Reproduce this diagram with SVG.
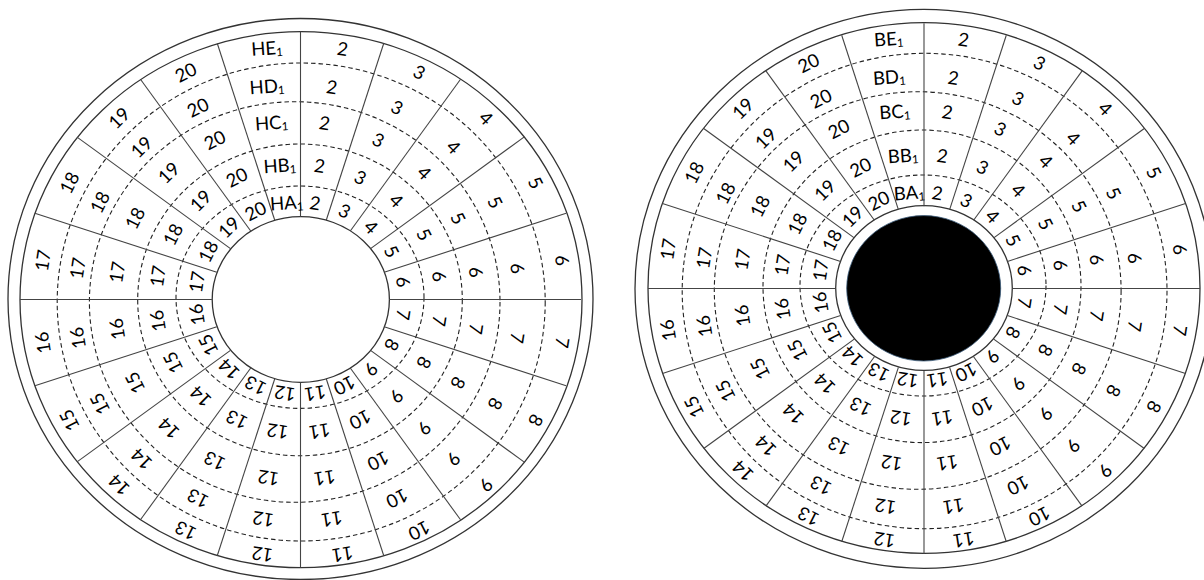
<svg xmlns="http://www.w3.org/2000/svg" width="1204" height="580" viewBox="0 0 1204 580">
<style>
.ring{fill:none;stroke:#333;stroke-width:1.3}
.hole{fill:#fff;stroke:#333;stroke-width:1.3}
.dash{fill:none;stroke:#222;stroke-width:1.1;stroke-dasharray:4.5 3}
.sec{stroke:#444;stroke-width:1.1}
.lbl text{font-family:Lato,"Liberation Sans",sans-serif;font-size:18.5px;text-anchor:middle;dominant-baseline:central;fill:#000}
.sub{font-size:11.5px}
</style>
<rect width="1204" height="580" fill="#fff"/>
<g id="left-diagram">
<g id="left-rings">
<ellipse class="ring" cx="300.5" cy="299" rx="292.5" ry="280.5"/>
<ellipse class="ring" cx="301" cy="299.7" rx="281" ry="268"/>
<ellipse class="dash" cx="301.2" cy="302" rx="244" ry="239"/>
<ellipse class="dash" cx="294.7" cy="302" rx="205.3" ry="200.3"/>
<ellipse class="dash" cx="300" cy="299.9" rx="162.3" ry="155.9"/>
<ellipse class="dash" cx="300" cy="297.2" rx="124" ry="111.2"/>
<ellipse class="hole" cx="300.8" cy="299.5" rx="88.6" ry="82.8"/>
</g>
<g id="left-connectors" transform="translate(300.5,299.5)">
<line class="sec" y1="-82.7" y2="-268" transform="rotate(0)"/>
<line class="sec" y1="-83.3" y2="-269.2" transform="rotate(18)"/>
<line class="sec" y1="-84.7" y2="-272.3" transform="rotate(36)"/>
<line class="sec" y1="-86.6" y2="-276.2" transform="rotate(54)"/>
<line class="sec" y1="-88" y2="-279.3" transform="rotate(72)"/>
<line class="sec" y1="-88.6" y2="-280.5" transform="rotate(90)"/>
<line class="sec" y1="-88" y2="-279.3" transform="rotate(108)"/>
<line class="sec" y1="-86.6" y2="-276.2" transform="rotate(126)"/>
<line class="sec" y1="-84.7" y2="-272.3" transform="rotate(144)"/>
<line class="sec" y1="-83.3" y2="-269.2" transform="rotate(162)"/>
<line class="sec" y1="-82.7" y2="-268" transform="rotate(180)"/>
<line class="sec" y1="-83.3" y2="-269.2" transform="rotate(198)"/>
<line class="sec" y1="-84.7" y2="-272.3" transform="rotate(216)"/>
<line class="sec" y1="-86.6" y2="-276.2" transform="rotate(234)"/>
<line class="sec" y1="-88" y2="-279.3" transform="rotate(252)"/>
<line class="sec" y1="-88.6" y2="-280.5" transform="rotate(270)"/>
<line class="sec" y1="-88" y2="-279.3" transform="rotate(288)"/>
<line class="sec" y1="-86.6" y2="-276.2" transform="rotate(306)"/>
<line class="sec" y1="-84.7" y2="-272.3" transform="rotate(324)"/>
<line class="sec" y1="-83.3" y2="-269.2" transform="rotate(342)"/>
</g>
<g id="left-band-E" class="lbl" transform="translate(302.5,301.5)">
<text transform="rotate(-8) translate(0,-256.2) rotate(4)">HE<tspan class="sub" dy="4">1</tspan></text>
<text transform="rotate(9) translate(0,-256.2)">2</text>
<text transform="rotate(27) translate(0,-257.5)">3</text>
<text transform="rotate(45) translate(0,-259.75)">4</text>
<text transform="rotate(63) translate(0,-262)">5</text>
<text transform="rotate(81) translate(0,-263.3)">6</text>
<text transform="rotate(99) translate(0,-263.3)">7</text>
<text transform="rotate(117) translate(0,-262)">8</text>
<text transform="rotate(135) translate(0,-259.75)">9</text>
<text transform="rotate(153) translate(0,-257.5)">10</text>
<text transform="rotate(171) translate(0,-256.2)">11</text>
<text transform="rotate(189) translate(0,-256.2)">12</text>
<text transform="rotate(207) translate(0,-257.5)">13</text>
<text transform="rotate(225) translate(0,-259.75)">14</text>
<text transform="rotate(243) translate(0,-262)">15</text>
<text transform="rotate(261) translate(0,-263.3)">16</text>
<text transform="rotate(279) translate(0,-263.3)">17</text>
<text transform="rotate(297) translate(0,-262)">18</text>
<text transform="rotate(315) translate(0,-259.75)">19</text>
<text transform="rotate(333) translate(0,-257.5)">20</text>
</g>
<g id="left-band-D" class="lbl" transform="translate(297.5,303)">
<text transform="rotate(-8) translate(0,-219.1) rotate(4)">HD<tspan class="sub" dy="4">1</tspan></text>
<text transform="rotate(9) translate(0,-219.1)">2</text>
<text transform="rotate(27) translate(0,-219.8)">3</text>
<text transform="rotate(45) translate(0,-221)">4</text>
<text transform="rotate(63) translate(0,-222.2)">5</text>
<text transform="rotate(81) translate(0,-222.9)">6</text>
<text transform="rotate(99) translate(0,-222.9)">7</text>
<text transform="rotate(117) translate(0,-222.2)">8</text>
<text transform="rotate(135) translate(0,-221)">9</text>
<text transform="rotate(153) translate(0,-219.8)">10</text>
<text transform="rotate(171) translate(0,-219.1)">11</text>
<text transform="rotate(189) translate(0,-219.1)">12</text>
<text transform="rotate(207) translate(0,-219.8)">13</text>
<text transform="rotate(225) translate(0,-221)">14</text>
<text transform="rotate(243) translate(0,-222.2)">15</text>
<text transform="rotate(261) translate(0,-222.9)">16</text>
<text transform="rotate(279) translate(0,-222.9)">17</text>
<text transform="rotate(297) translate(0,-222.2)">18</text>
<text transform="rotate(315) translate(0,-221)">19</text>
<text transform="rotate(333) translate(0,-219.8)">20</text>
</g>
<g id="left-band-C" class="lbl" transform="translate(296.5,300.5)">
<text transform="rotate(-8) translate(0,-180) rotate(4)">HC<tspan class="sub" dy="4">1</tspan></text>
<text transform="rotate(9) translate(0,-180)">2</text>
<text transform="rotate(27) translate(0,-180.4)">3</text>
<text transform="rotate(45) translate(0,-181)">4</text>
<text transform="rotate(63) translate(0,-181.6)">5</text>
<text transform="rotate(81) translate(0,-182)">6</text>
<text transform="rotate(99) translate(0,-182)">7</text>
<text transform="rotate(117) translate(0,-181.6)">8</text>
<text transform="rotate(135) translate(0,-181)">9</text>
<text transform="rotate(153) translate(0,-180.4)">10</text>
<text transform="rotate(171) translate(0,-180)">11</text>
<text transform="rotate(189) translate(0,-180)">12</text>
<text transform="rotate(207) translate(0,-180.4)">13</text>
<text transform="rotate(225) translate(0,-181)">14</text>
<text transform="rotate(243) translate(0,-181.6)">15</text>
<text transform="rotate(261) translate(0,-182)">16</text>
<text transform="rotate(279) translate(0,-182)">17</text>
<text transform="rotate(297) translate(0,-181.6)">18</text>
<text transform="rotate(315) translate(0,-181)">19</text>
<text transform="rotate(333) translate(0,-180.4)">20</text>
</g>
<g id="left-band-B" class="lbl" transform="translate(298.5,298.5)">
<text transform="rotate(-8) translate(0,-134.7) rotate(4)">HB<tspan class="sub" dy="4">1</tspan></text>
<text transform="rotate(9) translate(0,-134.7)">2</text>
<text transform="rotate(27) translate(0,-136.25)">3</text>
<text transform="rotate(45) translate(0,-138.75)">4</text>
<text transform="rotate(63) translate(0,-141.25)">5</text>
<text transform="rotate(81) translate(0,-142.8)">6</text>
<text transform="rotate(99) translate(0,-142.8)">7</text>
<text transform="rotate(117) translate(0,-141.25)">8</text>
<text transform="rotate(135) translate(0,-138.75)">9</text>
<text transform="rotate(153) translate(0,-136.25)">10</text>
<text transform="rotate(171) translate(0,-134.7)">11</text>
<text transform="rotate(189) translate(0,-134.7)">12</text>
<text transform="rotate(207) translate(0,-136.25)">13</text>
<text transform="rotate(225) translate(0,-138.75)">14</text>
<text transform="rotate(243) translate(0,-141.25)">15</text>
<text transform="rotate(261) translate(0,-142.8)">16</text>
<text transform="rotate(279) translate(0,-142.8)">17</text>
<text transform="rotate(297) translate(0,-141.25)">18</text>
<text transform="rotate(315) translate(0,-138.75)">19</text>
<text transform="rotate(333) translate(0,-136.25)">20</text>
</g>
<g id="left-band-A" class="lbl" transform="translate(300,298.2)">
<text transform="rotate(-8) translate(0,-96.7) rotate(4)">HA<tspan class="sub" dy="4">1</tspan></text>
<text transform="rotate(9) translate(0,-96.7)">2</text>
<text transform="rotate(27) translate(0,-98.25)">3</text>
<text transform="rotate(45) translate(0,-100.75)">4</text>
<text transform="rotate(63) translate(0,-103.25)">5</text>
<text transform="rotate(81) translate(0,-104.8)">6</text>
<text transform="rotate(99) translate(0,-104.8)">7</text>
<text transform="rotate(117) translate(0,-103.25)">8</text>
<text transform="rotate(135) translate(0,-100.75)">9</text>
<text transform="rotate(153) translate(0,-98.25)">10</text>
<text transform="rotate(171) translate(0,-96.7)">11</text>
<text transform="rotate(189) translate(0,-96.7)">12</text>
<text transform="rotate(207) translate(0,-98.25)">13</text>
<text transform="rotate(225) translate(0,-100.75)">14</text>
<text transform="rotate(243) translate(0,-103.25)">15</text>
<text transform="rotate(261) translate(0,-104.8)">16</text>
<text transform="rotate(279) translate(0,-104.8)">17</text>
<text transform="rotate(297) translate(0,-103.25)">18</text>
<text transform="rotate(315) translate(0,-100.75)">19</text>
<text transform="rotate(333) translate(0,-98.25)">20</text>
</g>
</g>
<g id="right-diagram">
<g id="right-rings">
<ellipse class="ring" cx="924" cy="288.8" rx="289" ry="279.5"/>
<ellipse class="ring" cx="924" cy="288" rx="276" ry="265.3"/>
<ellipse class="dash" cx="924.6" cy="291" rx="242.4" ry="237.7"/>
<ellipse class="dash" cx="917.7" cy="290.5" rx="203.4" ry="198.8"/>
<ellipse class="dash" cx="922" cy="286.3" rx="159" ry="156.3"/>
<ellipse class="dash" cx="923" cy="285.5" rx="123" ry="110.5"/>
<ellipse class="hole" cx="924" cy="288" rx="88.3" ry="82.3"/>
<ellipse cx="923.7" cy="288.3" rx="77" ry="72.7" fill="#000" stroke="#3a5a7a" stroke-width="0.8"/>
</g>
<g id="right-connectors" transform="translate(924,288.5)">
<line class="sec" y1="-82.3" y2="-265.3" transform="rotate(0)"/>
<line class="sec" y1="-82.9" y2="-266.3" transform="rotate(18)"/>
<line class="sec" y1="-84.4" y2="-269" transform="rotate(36)"/>
<line class="sec" y1="-86.2" y2="-272.3" transform="rotate(54)"/>
<line class="sec" y1="-87.7" y2="-275" transform="rotate(72)"/>
<line class="sec" y1="-88.3" y2="-276" transform="rotate(90)"/>
<line class="sec" y1="-87.7" y2="-275" transform="rotate(108)"/>
<line class="sec" y1="-86.2" y2="-272.3" transform="rotate(126)"/>
<line class="sec" y1="-84.4" y2="-269" transform="rotate(144)"/>
<line class="sec" y1="-82.9" y2="-266.3" transform="rotate(162)"/>
<line class="sec" y1="-82.3" y2="-265.3" transform="rotate(180)"/>
<line class="sec" y1="-82.9" y2="-266.3" transform="rotate(198)"/>
<line class="sec" y1="-84.4" y2="-269" transform="rotate(216)"/>
<line class="sec" y1="-86.2" y2="-272.3" transform="rotate(234)"/>
<line class="sec" y1="-87.7" y2="-275" transform="rotate(252)"/>
<line class="sec" y1="-88.3" y2="-276" transform="rotate(270)"/>
<line class="sec" y1="-87.7" y2="-275" transform="rotate(288)"/>
<line class="sec" y1="-86.2" y2="-272.3" transform="rotate(306)"/>
<line class="sec" y1="-84.4" y2="-269" transform="rotate(324)"/>
<line class="sec" y1="-82.9" y2="-266.3" transform="rotate(342)"/>
</g>
<g id="right-band-E" class="lbl" transform="translate(924,289.7)">
<text transform="rotate(-8) translate(0,-253.55) rotate(4)">BE<tspan class="sub" dy="4">1</tspan></text>
<text transform="rotate(9) translate(0,-253.55)">2</text>
<text transform="rotate(27) translate(0,-254.7)">3</text>
<text transform="rotate(45) translate(0,-256.55)">4</text>
<text transform="rotate(63) translate(0,-258.4)">5</text>
<text transform="rotate(81) translate(0,-259.55)">6</text>
<text transform="rotate(99) translate(0,-259.55)">7</text>
<text transform="rotate(117) translate(0,-258.4)">8</text>
<text transform="rotate(135) translate(0,-256.55)">9</text>
<text transform="rotate(153) translate(0,-254.7)">10</text>
<text transform="rotate(171) translate(0,-253.55)">11</text>
<text transform="rotate(189) translate(0,-253.55)">12</text>
<text transform="rotate(207) translate(0,-254.7)">13</text>
<text transform="rotate(225) translate(0,-256.55)">14</text>
<text transform="rotate(243) translate(0,-258.4)">15</text>
<text transform="rotate(261) translate(0,-259.55)">16</text>
<text transform="rotate(279) translate(0,-259.55)">17</text>
<text transform="rotate(297) translate(0,-258.4)">18</text>
<text transform="rotate(315) translate(0,-256.55)">19</text>
<text transform="rotate(333) translate(0,-254.7)">20</text>
</g>
<g id="right-band-D" class="lbl" transform="translate(919.5,292)">
<text transform="rotate(-8) translate(0,-217.3) rotate(4)">BD<tspan class="sub" dy="4">1</tspan></text>
<text transform="rotate(9) translate(0,-217.3)">2</text>
<text transform="rotate(27) translate(0,-217.5)">3</text>
<text transform="rotate(45) translate(0,-217.8)">4</text>
<text transform="rotate(63) translate(0,-218.1)">5</text>
<text transform="rotate(81) translate(0,-218.3)">6</text>
<text transform="rotate(99) translate(0,-218.3)">7</text>
<text transform="rotate(117) translate(0,-218.1)">8</text>
<text transform="rotate(135) translate(0,-217.8)">9</text>
<text transform="rotate(153) translate(0,-217.5)">10</text>
<text transform="rotate(171) translate(0,-217.3)">11</text>
<text transform="rotate(189) translate(0,-217.3)">12</text>
<text transform="rotate(207) translate(0,-217.5)">13</text>
<text transform="rotate(225) translate(0,-217.8)">14</text>
<text transform="rotate(243) translate(0,-218.1)">15</text>
<text transform="rotate(261) translate(0,-218.3)">16</text>
<text transform="rotate(279) translate(0,-218.3)">17</text>
<text transform="rotate(297) translate(0,-218.1)">18</text>
<text transform="rotate(315) translate(0,-217.8)">19</text>
<text transform="rotate(333) translate(0,-217.5)">20</text>
</g>
<g id="right-band-C" class="lbl" transform="translate(919.5,287.5)">
<text transform="rotate(-8) translate(0,-177.95) rotate(4)">BC<tspan class="sub" dy="4">1</tspan></text>
<text transform="rotate(9) translate(0,-177.95)">2</text>
<text transform="rotate(27) translate(0,-178.3)">3</text>
<text transform="rotate(45) translate(0,-178.85)">4</text>
<text transform="rotate(63) translate(0,-179.4)">5</text>
<text transform="rotate(81) translate(0,-179.75)">6</text>
<text transform="rotate(99) translate(0,-179.75)">7</text>
<text transform="rotate(117) translate(0,-179.4)">8</text>
<text transform="rotate(135) translate(0,-178.85)">9</text>
<text transform="rotate(153) translate(0,-178.3)">10</text>
<text transform="rotate(171) translate(0,-177.95)">11</text>
<text transform="rotate(189) translate(0,-177.95)">12</text>
<text transform="rotate(207) translate(0,-178.3)">13</text>
<text transform="rotate(225) translate(0,-178.85)">14</text>
<text transform="rotate(243) translate(0,-179.4)">15</text>
<text transform="rotate(261) translate(0,-179.75)">16</text>
<text transform="rotate(279) translate(0,-179.75)">17</text>
<text transform="rotate(297) translate(0,-179.4)">18</text>
<text transform="rotate(315) translate(0,-178.85)">19</text>
<text transform="rotate(333) translate(0,-178.3)">20</text>
</g>
<g id="right-band-B" class="lbl" transform="translate(921.5,287)">
<text transform="rotate(-8) translate(0,-133.1) rotate(4)">BB<tspan class="sub" dy="4">1</tspan></text>
<text transform="rotate(9) translate(0,-133.1)">2</text>
<text transform="rotate(27) translate(0,-134.6)">3</text>
<text transform="rotate(45) translate(0,-137.1)">4</text>
<text transform="rotate(63) translate(0,-139.6)">5</text>
<text transform="rotate(81) translate(0,-141.1)">6</text>
<text transform="rotate(99) translate(0,-141.1)">7</text>
<text transform="rotate(117) translate(0,-139.6)">8</text>
<text transform="rotate(135) translate(0,-137.1)">9</text>
<text transform="rotate(153) translate(0,-134.6)">10</text>
<text transform="rotate(171) translate(0,-133.1)">11</text>
<text transform="rotate(189) translate(0,-133.1)">12</text>
<text transform="rotate(207) translate(0,-134.6)">13</text>
<text transform="rotate(225) translate(0,-137.1)">14</text>
<text transform="rotate(243) translate(0,-139.6)">15</text>
<text transform="rotate(261) translate(0,-141.1)">16</text>
<text transform="rotate(279) translate(0,-141.1)">17</text>
<text transform="rotate(297) translate(0,-139.6)">18</text>
<text transform="rotate(315) translate(0,-137.1)">19</text>
<text transform="rotate(333) translate(0,-134.6)">20</text>
</g>
<g id="right-band-A" class="lbl" transform="translate(922.5,286.4)">
<text transform="rotate(-8) translate(0,-95) rotate(4)">BA<tspan class="sub" dy="4">1</tspan></text>
<text transform="rotate(9) translate(0,-95)">2</text>
<text transform="rotate(27) translate(0,-96.65)">3</text>
<text transform="rotate(45) translate(0,-99.3)">4</text>
<text transform="rotate(63) translate(0,-101.95)">5</text>
<text transform="rotate(81) translate(0,-103.6)">6</text>
<text transform="rotate(99) translate(0,-103.6)">7</text>
<text transform="rotate(117) translate(0,-101.95)">8</text>
<text transform="rotate(135) translate(0,-99.3)">9</text>
<text transform="rotate(153) translate(0,-96.65)">10</text>
<text transform="rotate(171) translate(0,-95)">11</text>
<text transform="rotate(189) translate(0,-95)">12</text>
<text transform="rotate(207) translate(0,-96.65)">13</text>
<text transform="rotate(225) translate(0,-99.3)">14</text>
<text transform="rotate(243) translate(0,-101.95)">15</text>
<text transform="rotate(261) translate(0,-103.6)">16</text>
<text transform="rotate(279) translate(0,-103.6)">17</text>
<text transform="rotate(297) translate(0,-101.95)">18</text>
<text transform="rotate(315) translate(0,-99.3)">19</text>
<text transform="rotate(333) translate(0,-96.65)">20</text>
</g>
</g>
</svg>
